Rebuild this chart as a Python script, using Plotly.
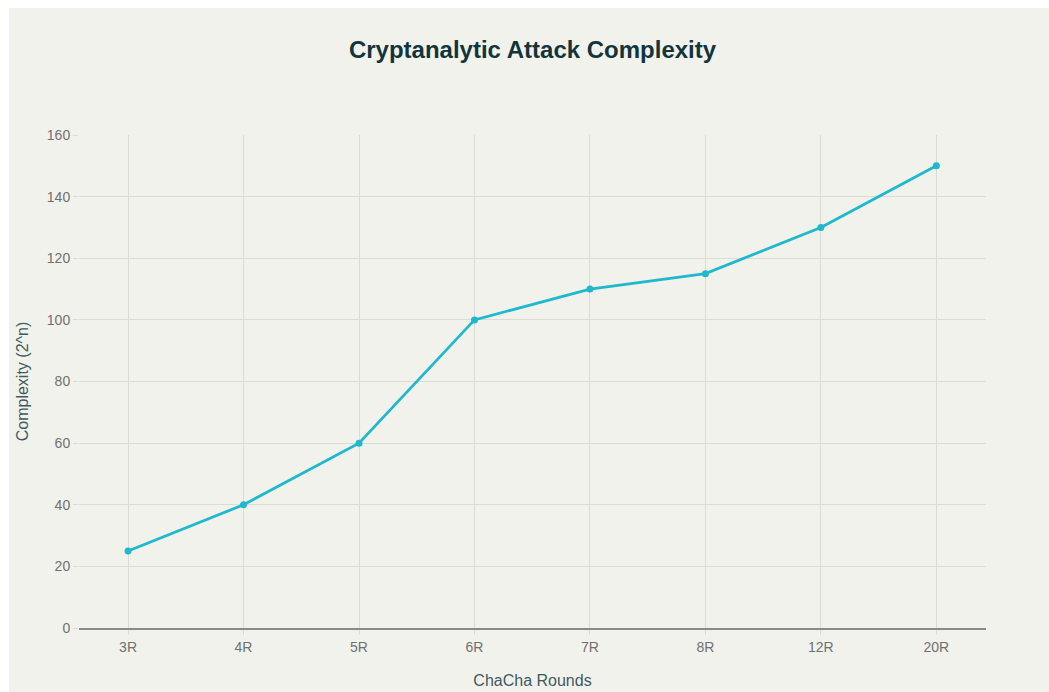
import plotly.graph_objects as go

# ChaCha round counts and the estimated attack complexity (log2 scale)
rounds = ["3R", "4R", "5R", "6R", "7R", "8R", "12R", "20R"]
complexity = [25, 40, 60, 100, 110, 115, 130, 150]
y_ticks = [0, 20, 40, 60, 80, 100, 120, 140, 160]

W, H = 1049, 692
ML, MR, MT, MB = 79, 63, 135, 64
plot_w = W - ML - MR
plot_h = H - MT - MB

bg = "#f2f2ed"
grid = "#dcdcd6"
font_family = "Liberation Sans, Arial, sans-serif"
tick_font = dict(family=font_family, size=14, color="#707070")
axis_title_font = dict(family=font_family, size=16, color="#3d5a60")
title_color = "#13343b"

fig = go.Figure()
fig.add_trace(go.Scatter(
    x=rounds,
    y=complexity,
    mode="lines+markers",
    line=dict(color="#1fb8cd", width=2.8),
    marker=dict(color="#1fb8cd", size=7),
    cliponaxis=False,
    showlegend=False,
))

# panel background, inset from the top-left page edge
fig.add_shape(
    type="rect", xref="paper", yref="paper", layer="below",
    x0=(9 - ML) / plot_w, x1=(W + 20 - ML) / plot_w,
    y0=(H - MB - (H + 20)) / plot_h, y1=(H - MB - 8) / plot_h,
    fillcolor=bg, line=dict(width=0),
)

fig.update_layout(
    width=W, height=H,
    margin=dict(l=ML, r=MR, t=MT, b=MB, pad=0, autoexpand=False),
    paper_bgcolor="white",
    plot_bgcolor=bg,
    title=dict(
        text="<b>Cryptanalytic Attack Complexity</b>",
        x=0.5, xref="paper", y=1 - 50 / H, yanchor="middle",
        font=dict(family=font_family, size=24, color=title_color),
    ),
    xaxis=dict(
        type="category",
        range=[-0.425, 7.43],
        automargin=False,
        title=dict(text="ChaCha Rounds", standoff=21, font=axis_title_font),
        tickfont=tick_font,
        showgrid=True, gridcolor=grid, gridwidth=1,
        ticks="outside", ticklen=5, tickcolor=grid,
        showline=True, linecolor="#8a8a8a", linewidth=1.5,
        zeroline=False,
    ),
    yaxis=dict(
        range=[0, 160],
        tickvals=y_ticks,
        automargin=False,
        title=dict(text="Complexity (2^n)", standoff=14, font=axis_title_font),
        tickfont=tick_font,
        showgrid=True, gridcolor=grid, gridwidth=1,
        ticks="outside", ticklen=5, tickcolor=grid,
        showline=False,
        zeroline=False,
    ),
)

fig.write_html("out.html")
